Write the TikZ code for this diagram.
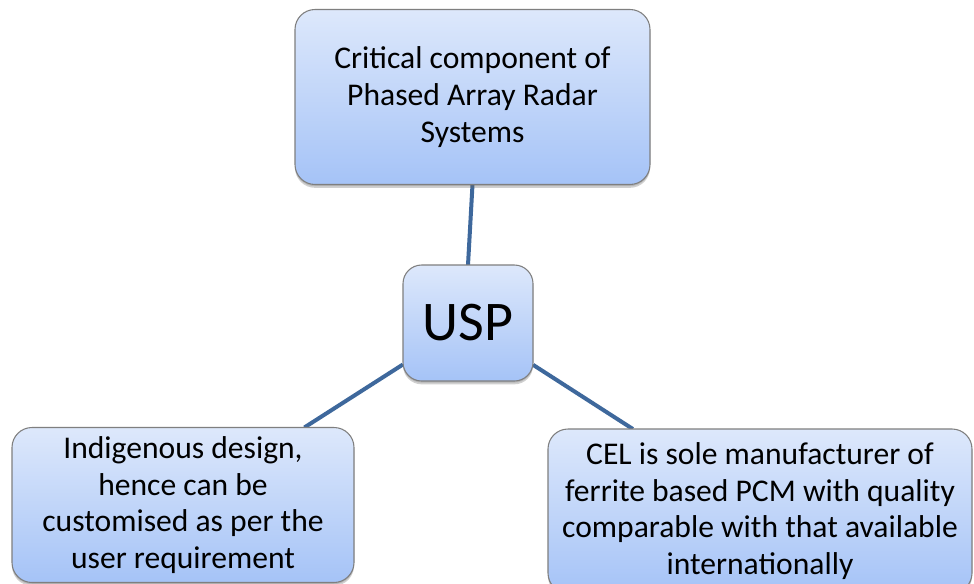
\documentclass[tikz,border=0pt]{standalone}
\usepackage{fontspec}
\setmainfont{Carlito}
\usetikzlibrary{shadows}
\definecolor{linkblue}{HTML}{3E689C}
\definecolor{boxtop}{HTML}{DDE8FB}
\definecolor{boxbot}{HTML}{A5C3F7}
\definecolor{boxedge}{HTML}{7F7F7F}
\pgfdeclarelayer{background}
\pgfsetlayers{background,main}
\tikzset{
  bubble/.style={draw=boxedge, line width=0.8pt, rounded corners=15pt,
    top color=boxtop, bottom color=boxbot, inner sep=0pt, outer sep=0pt,
    align=center, font=\fontsize{23.7}{27.5}\selectfont,
    drop shadow={shadow xshift=0pt, shadow yshift=-2.5pt, opacity=0.3, fill=black!60},
    drop shadow={shadow xshift=0pt, shadow yshift=-1.2pt, opacity=0.25, fill=black!60}},
  link/.style={draw=linkblue, line width=3pt}
}
\begin{document}
\begin{tikzpicture}[x=0.75pt,y=-0.75pt]
\useasboundingbox (0,0) rectangle (974,583);
\clip (0,0) rectangle (974,583);
\begin{pgfonlayer}{background}
\fill[white] (0,0) rectangle (974,583);
\end{pgfonlayer}
\node[bubble, minimum width=266.25pt, minimum height=131.25pt] (top) at (472.5,97)
  {Critical component of\\Phased Array Radar\\Systems};
\node[bubble, minimum width=97.5pt, minimum height=87pt, rounded corners=14pt,
  font=\fontsize{42}{46}\selectfont] (usp) at (468,323) {USP};
\node[bubble, minimum width=256.5pt, minimum height=116.25pt] (left) at (183,505)
  {Indigenous design,\\hence can be\\customised as per the\\user requirement};
\node[bubble, minimum width=318pt, minimum height=123pt] (right) at (760,511)
  {CEL is sole manufacturer of\\ferrite based PCM with quality\\comparable with that available\\internationally};
\begin{pgfonlayer}{background}
\draw[link] (top.south) -- (usp.north);
\draw[link] (usp) -- (left);
\draw[link] (usp) -- (right);
\end{pgfonlayer}
\end{tikzpicture}
\end{document}
